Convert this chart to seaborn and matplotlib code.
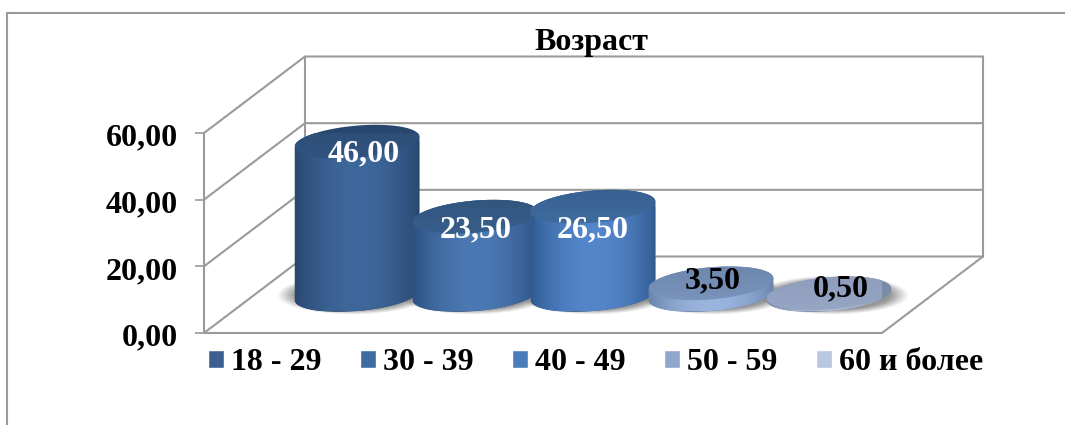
import numpy as np
import pandas as pd
import matplotlib
matplotlib.use("Agg")
import matplotlib.pyplot as plt
from matplotlib.colors import to_rgb
from matplotlib.lines import Line2D
from matplotlib.patches import Polygon
from matplotlib.transforms import ScaledTranslation
import seaborn as sns

# data
groups = ["18 - 29", "30 - 39", "40 - 49", "50 - 59", "60 и более"]
values = [46.00, 23.50, 26.50, 3.50, 0.50]
y_ticks = [0, 20, 40, 60]
title = "Возраст"

# colours
legend_colors = ["#3B5F8E", "#3F6BA3", "#4A7BBA", "#90A6CC", "#B9C7E1"]
edge_colors = ["#28476E", "#2C5080", "#2F5A90", "#6A83AB", "#7C8BA8"]
mid_colors = ["#3E679B", "#4B79B3", "#5486CA", "#9CB5E0", "#AEBBD4"]
top_colors = ["#2C4C75", "#30547C", "#37608E", "#6C86AD", "#8D9DBC"]
label_colors = ["white", "white", "white", "black", "black"]
label_nudge = [(7, -12), (1, -13), (0, -23), (2, 2), (12, 4)]
grid_color = "#9A9A9A"

# pixel sizes of one axis unit, and the fake depth of the box
PX_X = 118
PX_Y = 200 / 60
DEPTH_X = 101 / PX_X
DEPTH_Y = 76.5 / PX_Y
FLOOR = 38 / PX_Y
R_X, R_Y = 62.5, 16
TILT = np.radians(5)

sns.set_theme(style="white")
plt.rcParams["font.family"] = ["Liberation Serif", "DejaVu Serif"]
plt.rcParams["font.weight"] = "bold"
plt.rcParams["text.color"] = "black"

W, H = 1065, 425
fig = plt.figure(figsize=(W / 100, H / 100), dpi=100)
ax = fig.add_axes([204 / W, (H - 333) / H, 678 / W, 200 / H])

df = pd.DataFrame({"group": groups, "value": values})
sns.barplot(data=df, x="group", y="value", hue="group", hue_order=groups,
            palette=legend_colors, width=125 / PX_X, dodge=False, saturation=1,
            legend=True, ax=ax)
xlim = ((204 - 357) / PX_X, (882 - 357) / PX_X)
ylim = (0, 60)


def ellipse(cx, cy, t):
    # tilted ellipse given in pixels around a data point
    px = R_X * np.cos(t)
    py = R_Y * np.sin(t)
    return np.column_stack([cx + (px * np.cos(TILT) - py * np.sin(TILT)) / PX_X,
                            cy + (px * np.sin(TILT) + py * np.cos(TILT)) / PX_Y])


# box walls, drawn from the y ticks
wall = dict(color=grid_color, lw=1.5, clip_on=False, zorder=1)
for t in y_ticks:
    ax.plot([xlim[0], xlim[0] + DEPTH_X, xlim[1] + DEPTH_X], [t, t + DEPTH_Y, t + DEPTH_Y], **wall)
ax.plot([xlim[0] + DEPTH_X] * 2, [DEPTH_Y, 60 + DEPTH_Y], **wall)
ax.plot([xlim[1] + DEPTH_X] * 2, [DEPTH_Y, 60 + DEPTH_Y], **wall)
ax.plot([xlim[0], xlim[1], xlim[1] + DEPTH_X], [0, 0, DEPTH_Y], **wall)

bars = sorted(list(ax.patches)[:len(values)], key=lambda p: p.get_x())
for i, (bar, v) in enumerate(zip(bars, values)):
    cx = bar.get_x() + bar.get_width() / 2
    base = FLOOR
    top = FLOOR + v
    bar.set_y(base)
    bar.set_zorder(3 + i)

    # soft shadow on the floor
    sx = cx + (cx - 2) * 2 / PX_X
    gx, gy = np.meshgrid(np.linspace(-1.5, 1.5, 120), np.linspace(-1.8, 1.8, 80))
    d = np.sqrt(gx ** 2 + gy ** 2)
    shade = np.zeros(d.shape + (4,))
    shade[..., :3] = 0.42
    shade[..., 3] = np.clip((1.22 - d) / 0.3, 0, 1) * 0.7
    ax.imshow(shade, extent=[sx - 1.5 * R_X / PX_X, sx + 1.5 * R_X / PX_X,
                             base - 1.8 * R_Y / PX_Y, base + 1.8 * R_Y / PX_Y],
              aspect="auto", zorder=2, origin="lower", interpolation="bilinear", clip_on=False)

    # cylinder outline: lower half of the foot and upper half of the lid
    outline = np.vstack([ellipse(cx, base, np.linspace(np.pi, 2 * np.pi, 60)),
                         ellipse(cx, top, np.linspace(0, np.pi, 60))])
    body = Polygon(outline, closed=True, facecolor=edge_colors[i], edgecolor="none",
                   zorder=3 + i, clip_on=False)
    ax.add_patch(body)
    bar.set_clip_path(body)

    # side shading, left to right
    e, m = np.array(to_rgb(edge_colors[i])), np.array(to_rgb(mid_colors[i]))
    s = np.linspace(0, 1, 128)
    k = np.sin(np.pi * s) ** 0.8
    shading = (e[None, :] * (1 - k[:, None]) + m[None, :] * k[:, None])[None, :, :]
    side = ax.imshow(shading, extent=[cx - R_X / PX_X, cx + R_X / PX_X, base - R_Y / PX_Y, top + R_Y / PX_Y],
                     aspect="auto", zorder=3 + i, interpolation="bilinear")
    side.set_clip_path(body)

    # lid fades a little into the side towards its front edge
    lid = Polygon(ellipse(cx, top, np.linspace(0, 2 * np.pi, 120)), closed=True,
                  facecolor="none", edgecolor="none", zorder=3 + i, clip_on=False)
    ax.add_patch(lid)
    c = np.array(to_rgb(top_colors[i]))
    fade = np.linspace(0.3, 0, 64)[:, None, None]
    lid_img = ax.imshow(c[None, None, :] * (1 - fade) + m[None, None, :] * fade,
                        extent=[cx - R_X / PX_X, cx + R_X / PX_X, top - 1.3 * R_Y / PX_Y, top + 1.3 * R_Y / PX_Y],
                        aspect="auto", origin="lower", zorder=3 + i, interpolation="bilinear")
    lid_img.set_clip_path(lid)

    nx, ny = label_nudge[i]
    ax.annotate(f"{v:.2f}".replace(".", ","), (cx, top), xytext=(nx * 0.72, ny * 0.72),
                textcoords="offset points", ha="center", va="center", fontsize=23,
                fontweight="bold", color=label_colors[i], zorder=20)

ax.set_xlim(*xlim)
ax.set_ylim(*ylim)
ax.set_xticks([])
ax.set_yticks(y_ticks)
ax.set_yticklabels([f"{t:.2f}".replace(".", ",") for t in y_ticks], fontsize=23, fontweight="bold", color="black")
ax.tick_params(axis="y", left=True, length=6.5, width=1.2, color=grid_color, pad=12.5)
shift = ScaledTranslation(0, -1.2 / 72, fig.dpi_scale_trans)
for lab in ax.get_yticklabels():
    lab.set_transform(lab.get_transform() + shift)
ax.set_xlabel("")
ax.set_ylabel("")
ax.patch.set_alpha(0)
for name, spine in ax.spines.items():
    spine.set_visible(name == "left")
ax.spines["left"].set_color(grid_color)
ax.spines["left"].set_linewidth(1.5)

fig.text(591 / W, 1 - 42.5 / H, title, ha="center", va="center", fontsize=23, fontweight="bold", color="black")

sns.move_legend(ax, "upper left", bbox_to_anchor=(208 / W, 1 - 348 / H), bbox_transform=fig.transFigure,
                ncols=5, title=None, frameon=False, fontsize=23, handlelength=0.5, handleheight=0.5,
                handletextpad=0.22, columnspacing=1.205, borderpad=0, borderaxespad=0, labelcolor="black")

# outer frame of the chart area
fig.add_artist(Line2D([7 / W, 7 / W, 1], [0, 1 - 12.5 / H, 1 - 12.5 / H], color=grid_color, lw=1.5))

fig.savefig("out.png", dpi=100)
